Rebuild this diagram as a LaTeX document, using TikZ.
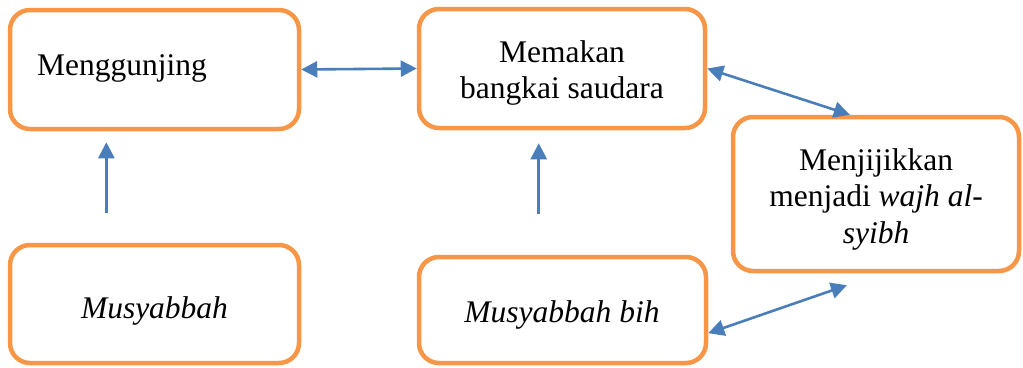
\documentclass[tikz,border=0pt]{standalone}
\usepackage{fontspec}
\setmainfont{Liberation Serif}
\usetikzlibrary{arrows.meta,calc}
\definecolor{boxorange}{HTML}{F79646}
\definecolor{arrblue}{HTML}{4A7EBB}
\tikzset{
  box/.style={draw=boxorange, line width=4.5pt, rounded corners=20pt, inner sep=0pt, fill=white},
  txt/.style={font=\fontsize{31.5}{36.5}\selectfont, inner sep=0pt, align=center, text=black},
  conn/.style={draw=arrblue, line width=2.6pt, {Triangle[length=16pt,width=16pt]}-{Triangle[length=16pt,width=16pt]}},
  upconn/.style={draw=arrblue, line width=2.6pt, -{Triangle[length=16pt,width=16pt]}}
}
\begin{document}
\begin{tikzpicture}[x=1pt,y=-1pt]
\useasboundingbox (0,0) rectangle (1023,367);
\node[box, minimum width=289pt, minimum height=119pt] (b1) at (154.5,69.5) {};
\node[box, minimum width=286pt, minimum height=119pt] (b2) at (562,68.5) {};
\node[box, minimum width=286pt, minimum height=154pt] (b3) at (876,194) {};
\node[box, minimum width=289pt, minimum height=118pt] (b4) at (154.5,304) {};
\node[box, minimum width=287pt, minimum height=106pt] (b5) at (562.5,310) {};
\node[txt, anchor=base west] (t1) at (37,75) {Menggunjing};
\node[txt] (t2) at (562,73) {Memakan\\bangkai saudara};
\node[txt] (t3) at (876,199) {Menjijikkan\\menjadi \textit{wajh al-}\\\textit{syibh}};
\node[txt, anchor=base] (t4) at (154.5,318) {\textit{Musyabbah}};
\node[txt, anchor=base] (t5) at (562,322) {\textit{Musyabbah bih}};
\coordinate (u1s) at ($(b1.south west)!0.336!(b1.south east)+(0,82)$);
\coordinate (u1e) at ($(b1.south west)!0.336!(b1.south east)+(0,11)$);
\coordinate (u2s) at ($(b2.south west)!0.42!(b2.south east)+(0,84)$);
\coordinate (u2e) at ($(b2.south west)!0.42!(b2.south east)+(0,13)$);
\coordinate (d3n) at ($(b3.north west)!0.41!(b3.north east)$);
\coordinate (d5e) at ($(b5.south east)!0.29!(b5.north east)$);
\coordinate (d3s) at ($(b3.south west)!0.4!(b3.south east)+(0,12)$);
\draw[conn] (b1.east) -- (b2.west);
\draw[conn] (b2.east) -- (d3n);
\draw[conn] (d5e) -- (d3s);
\draw[upconn] (u1s) -- (u1e);
\draw[upconn] (u2s) -- (u2e);
\end{tikzpicture}
\end{document}
